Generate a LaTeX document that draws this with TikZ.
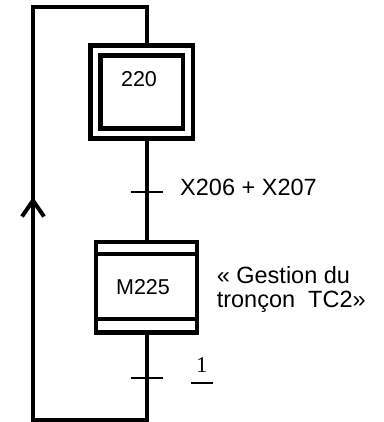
\documentclass[tikz,border=0pt]{standalone}
\usepackage{fontspec}
\setmainfont{Liberation Sans}
\newfontfamily\timesfont{Liberation Serif}
\usetikzlibrary{arrows.meta}

\begin{document}
\begin{tikzpicture}[x=1pt,y=-1pt,
    link/.style={line width=4pt},
    band/.style={line width=4pt},
    initstep/.style={draw, double, line width=4.5pt, double distance=5.5pt,
        minimum width=92.5pt, minimum height=83pt, inner sep=0pt, outer sep=7.25pt},
    macrostep/.style={draw, line width=4.5pt, minimum width=101pt,
        minimum height=90.5pt, inner sep=0pt},
    trans/.style={fill=black, minimum width=32pt, minimum height=2.5pt, inner sep=0pt},
    lbl/.style={inner sep=0pt, font=\fontsize{23.5}{24}\selectfont},
    num/.style={inner sep=0pt, font=\fontsize{21.5}{24}\selectfont}]
    \useasboundingbox (0,0) rectangle (383,422);

    % Nodes
    \node[initstep] (s220) at (141.7,91.8) {};
    \node[num] (n220) at (139,79) {220};
    \node[trans] (t1) at (146.5,192) {};
    \node[lbl, anchor=base west] (cond1) at (180,195) {X206 + X207};
    \node[macrostep] (m225) at (146.5,287.25) {};
    \node[num] (n225) at (143,287) {M225};
    \node[lbl, anchor=north west, align=left] (desc) at (216.6,266) {« Gestion du\\tronçon~~TC2»};
    \node[trans] (t2) at (146.5,378) {};
    \node[inner sep=0pt, anchor=base west, font=\timesfont\fontsize{22.5}{24}\selectfont] (cond2) at (196,372) {1};
    \coordinate (bl) at (33,420);
    \coordinate (tl) at (33,7);
    \coordinate (tip) at (33,197);

    % Edges
    \draw[link] (s220.south -| t1) -- (t1) -- (m225);
    \draw[link] (m225) -- (t2) -- (t2 |- bl) -- (bl) -- (tl) -- (tl -| t1) -- (s220.north -| t1);
    \draw[link, -{Straight Barb[length=16pt, width=22pt]}] (bl) -- (tip);

    % macro-step bands
    \draw[band] ([yshift=-14.25pt]m225.north west) -- ([yshift=-14.25pt]m225.north east);
    \draw[band] ([yshift=15.75pt]m225.south west) -- ([yshift=15.75pt]m225.south east);

    % receptivity bar
    \draw[line width=2pt] ([xshift=-5pt,yshift=-11pt]cond2.base west) -- ([xshift=17pt,yshift=-11pt]cond2.base west);
\end{tikzpicture}
\end{document}
